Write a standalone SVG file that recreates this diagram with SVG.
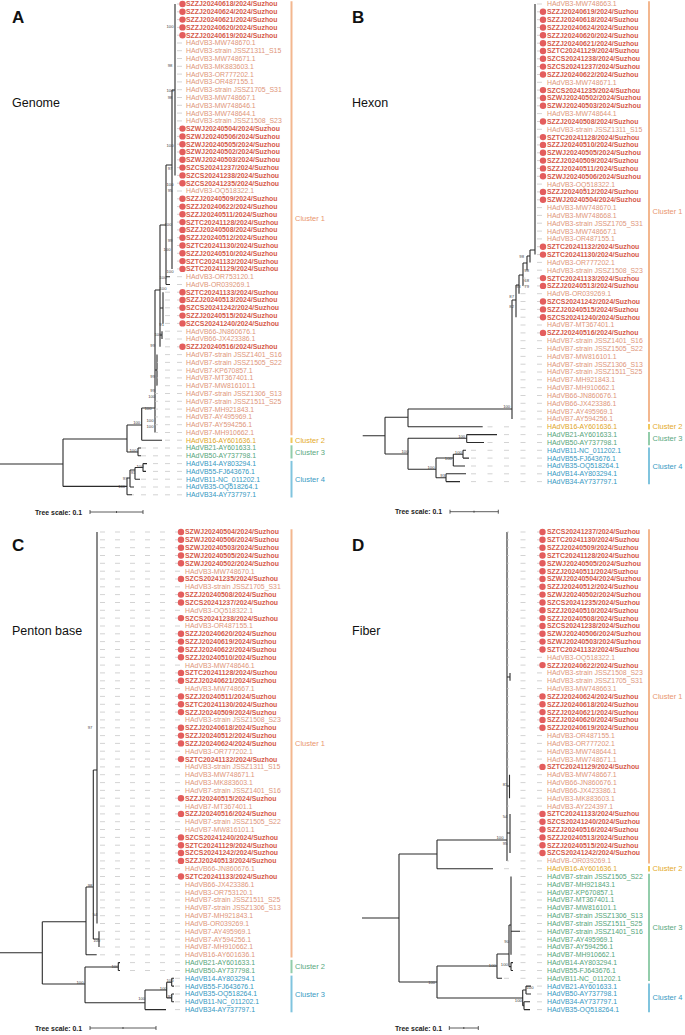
<svg xmlns="http://www.w3.org/2000/svg" width="685" height="1035" viewBox="0 0 685 1035">
<style>
text{font-family:"Liberation Sans",Arial,sans-serif}
.r{font-size:6.9px;fill:#e0967a}
.s{font-size:6.9px;font-weight:bold;fill:#d65b4b}
.y{font-size:6.9px;fill:#e0a526}
.g{font-size:6.9px;fill:#55a57a}
.b{font-size:6.9px;fill:#3598c2}
.d{fill:#e35d5d}
.t{stroke:#2b2b2b;stroke-width:1.1;fill:none}
.lA{stroke:#c8c8c8;stroke-width:.8;fill:none;stroke-dasharray:5 7}
.lB{stroke:#c8c8c8;stroke-width:.8;fill:none;stroke-dasharray:5 11.5}
.lC{stroke:#c8c8c8;stroke-width:.8;fill:none;stroke-dasharray:5 10}
.bs{font-size:4.2px;fill:#444;text-anchor:middle}
.cl{font-size:7.5px}
.k1{stroke:#f3b78f;stroke-width:2;fill:none}
.k2{stroke:#f1c75b;stroke-width:2;fill:none}
.k3{stroke:#93cdab;stroke-width:2;fill:none}
.k4{stroke:#80c4de;stroke-width:2;fill:none}
.c1{fill:#e9966f}.c2{fill:#e4aa2c}.c3{fill:#5aa97f}.c4{fill:#3a9bc4}
.sc{stroke:#333;stroke-width:.8;fill:none}
.ts{font-size:6.9px;font-weight:bold;fill:#222}
.pl{font-size:17px;font-weight:bold;fill:#111}
.pt{font-size:12.5px;fill:#111}
</style>

<g id="titles">
<text class="pl" x="12" y="23">A</text><text class="pt" x="12" y="107">Genome</text>
<text class="pl" x="352" y="23">B</text><text class="pt" x="352" y="107">Hexon</text>
<text class="pl" x="12" y="551">C</text><text class="pt" x="12" y="635">Penton base</text>
<text class="pl" x="352" y="551">D</text><text class="pt" x="352" y="635">Fiber</text>
</g>

<g id="connectors">
<path class="t" d="M0 464H63M63 439V486.4M63 439H127M127 425V452M127 452H138M138 448V455.8M138 448H141M138 455.8H141M127 425H141.7M141.7 408V440.2M141.7 440.2H162M141.7 408H155M63 486.4H127M127 478V494.8M127 494.8H132M127 478H130M130 470V487M130 487H134M130 470H135M135 467.5V479.2M135 479.2H140M135 467.5H143M143 463.6V471.4M143 463.6H147M143 471.4H146M175 4V175.4M172 90H175M172 90V268.9M166 165H172M166 165V284.5M166 276.7H170M166 284.5H170M160 225H166M160 225V346.8M160 308H163M163 292.2V323.4M160 335H162M162 331.2V339M155 290H160M155 290V432.5M155 370H157M157 354.6V385.7"/>
<path class="lA" d="M182 4H175M182 11.8H175M182 19.6H175M182 27.4H175M182 35.2H175M182 43H175M182 50.7H175M182 58.5H175M182 66.3H175M182 74.1H175M182 81.9H175M182 89.7H175M182 97.5H172M182 105.3H172M182 113.1H172M182 120.9H172M182 128.6H172M182 136.4H172M182 144.2H172M182 152H172M182 159.8H172M182 167.6H172M182 175.4H172M182 183.2H172M182 191H172M182 198.8H172M182 206.6H172M182 214.3H172M182 222.1H172M182 229.9H172M182 237.7H172M182 245.5H172M182 253.3H172M182 261.1H172M182 268.9H172M182 276.7H170M182 284.5H170M182 292.2H163M182 300H163M182 307.8H163M182 315.6H163M182 323.4H163M182 331.2H162M182 339H162M182 346.8H160M182 354.6H157M182 362.4H157M182 370.1H157M182 377.9H157M182 385.7H157M182 393.5H155M182 401.3H155M182 409.1H155M182 416.9H155M182 424.7H155M182 432.5H155M182 440.2H162M182 448H141M182 455.8H141M182 463.6H147M182 471.4H146M182 479.2H140M182 487H134M182 494.8H132"/>

<path class="t" d="M362.7 435.7H385M385 417.3V454M385 417.3H408M408 409V426.8M408 426.8H482.7M408 409H512M385 454H408M408 438.3V469.3M408 438.3H466.7M466.7 434.6V442.5M466.7 434.6H497M466.7 442.5H484M408 469.3H436M436 458V477.7M436 458H453.3M453.3 454.2V466M453.3 466H465M453.3 454.2H463M463 450.3V458.1M463 450.3H466M463 458.1H469M436 477.7H446M446 473.8V481.6M446 473.8H466M446 481.6H460M512 300V419M512 300H516M516 285V317.2M516 285H519M519 275V293.7M519 275H523M523 263V285.9M523 263H527M527 256V270.2M527 256H530M530 250V262.4M530 250H535M535 4V254.6"/>
<path class="lB" d="M542 4H535M542 11.8H535M542 19.7H535M542 27.5H535M542 35.3H535M542 43.2H535M542 51H535M542 58.8H535M542 66.6H535M542 74.5H535M542 82.3H535M542 90.1H535M542 98H535M542 105.8H535M542 113.6H535M542 121.5H535M542 129.3H535M542 137.1H535M542 144.9H535M542 152.8H535M542 160.6H535M542 168.4H535M542 176.3H535M542 184.1H535M542 191.9H535M542 199.8H535M542 207.6H535M542 215.4H535M542 223.2H535M542 231.1H535M542 238.9H535M542 246.7H535M542 254.6H535M542 262.4H530M542 270.2H527M542 278.1H523M542 285.9H523M542 293.7H519M542 301.5H516M542 309.4H516M542 317.2H516M542 325H512M542 332.9H512M542 340.7H512M542 348.5H512M542 356.4H512M542 364.2H512M542 372H512M542 379.8H512M542 387.7H512M542 395.5H512M542 403.3H512M542 411.2H512M542 419H512M542 426.8H482.7M542 434.6H497M542 442.5H484M542 450.3H466M542 458.1H469M542 466H465M542 473.8H466M542 481.6H460"/>

<path class="t" d="M0 952.7H42.3M42.3 921.7V984M42.3 921.7H86M86 887V954.8M86 954.8H96.7M86 887H93.3M93.3 770V939M93.3 939H99M99 931.3V947M93.3 770H97M97 532V923.5M42.3 984H85M85 967V1002.7M85 967H118.3M118.3 962.6V970.5M118.3 962.6H120M118.3 970.5H120M85 1002.7H145M145 990V1009.6M145 1009.6H166M145 990H166.7M166.7 982.2V997.9M166.7 982.2H171.7M171.7 978.3V986.1M171.7 978.3H174M171.7 986.1H174M166.7 997.9H171.7M171.7 994V1001.8M171.7 994H174M171.7 1001.8H174"/>
<path class="lC" d="M180 532H97M180 539.8H97M180 547.7H97M180 555.5H97M180 563.3H97M180 571.2H97M180 579H97M180 586.8H97M180 594.6H97M180 602.5H97M180 610.3H97M180 618.1H97M180 626H97M180 633.8H97M180 641.6H97M180 649.5H97M180 657.3H97M180 665.1H97M180 672.9H97M180 680.8H97M180 688.6H97M180 696.4H97M180 704.3H97M180 712.1H97M180 719.9H97M180 727.8H97M180 735.6H97M180 743.4H97M180 751.2H97M180 759.1H97M180 766.9H97M180 774.7H97M180 782.6H97M180 790.4H97M180 798.2H97M180 806.1H97M180 813.9H97M180 821.7H97M180 829.5H97M180 837.4H97M180 845.2H97M180 853H97M180 860.9H97M180 868.7H97M180 876.5H97M180 884.4H97M180 892.2H97M180 900H97M180 907.8H97M180 915.7H97M180 923.5H97M180 931.3H99M180 939.2H99M180 947H99M180 954.8H96.7M180 962.6H120M180 970.5H120M180 978.3H174M180 986.1H174M180 994H174M180 1001.8H174M180 1009.6H166"/>

<path class="t" d="M362 918H399M399 854V982M399 854H437M437 840V868.7M437 868.7H493M437 840H507M507 532V860.9M507 677H510M510 672.9V680.8M507 786H509.5M509.5 774.7V798.2M507 833H510M510 813.9V853M399 982H437M437 966V998M437 966H497M497 954V978.3M497 978.3H502M497 954H509M509 925V966.6M509 925H511M511 876.5V954.8M511 931.3H520M509 966.6H511M511 962.6V970.5M511 962.6H513M511 970.5H513M437 998H522.7M522.7 990V1005.7M522.7 990H526M526 986.1V994M526 986.1H531M526 994H531M522.7 1005.7H524M524 1001.8V1009.6M524 1001.8H530M524 1009.6H530"/>
<path class="lB" d="M542 532H507M542 539.8H507M542 547.7H507M542 555.5H507M542 563.3H507M542 571.2H507M542 579H507M542 586.8H507M542 594.6H507M542 602.5H507M542 610.3H507M542 618.1H507M542 626H507M542 633.8H507M542 641.6H507M542 649.5H507M542 657.3H507M542 665.1H507M542 672.9H510M542 680.8H510M542 688.6H507M542 696.4H507M542 704.3H507M542 712.1H507M542 719.9H507M542 727.8H507M542 735.6H507M542 743.4H507M542 751.2H507M542 759.1H507M542 766.9H507M542 774.7H509.5M542 782.6H509.5M542 790.4H509.5M542 798.2H509.5M542 806.1H507M542 813.9H510M542 821.7H510M542 829.5H510M542 837.4H510M542 845.2H510M542 853H510M542 860.9H507M542 868.7H493M542 876.5H511M542 884.4H511M542 892.2H511M542 900H511M542 907.8H511M542 915.7H511M542 923.5H511M542 931.3H520M542 939.2H511M542 947H511M542 954.8H511M542 962.6H513M542 970.5H513M542 978.3H502M542 986.1H531M542 994H531M542 1001.8H530M542 1009.6H530"/>
</g>

<g id="bootstrap">
<text class="bs" x="170" y="28">100</text><text class="bs" x="170" y="67">98</text><text class="bs" x="170" y="92">100</text><text class="bs" x="170" y="99">98</text><text class="bs" x="170" y="147">100</text><text class="bs" x="170" y="170">97</text><text class="bs" x="170" y="186">100</text><text class="bs" x="170" y="192">95</text><text class="bs" x="168" y="225.5">100</text><text class="bs" x="170" y="241.5">99</text><text class="bs" x="167" y="250.5">100</text><text class="bs" x="170" y="273">100</text><text class="bs" x="163" y="279">100</text><text class="bs" x="163" y="289.5">100</text><text class="bs" x="161.7" y="325.5">91</text><text class="bs" x="158" y="335.5">100</text><text class="bs" x="152.7" y="346.5">99</text><text class="bs" x="152.7" y="378">99</text><text class="bs" x="152.7" y="391.5">99</text><text class="bs" x="151.7" y="398">100</text><text class="bs" x="148" y="409.5">100</text><text class="bs" x="150" y="421.5">100</text><text class="bs" x="150" y="427.5">100</text><text class="bs" x="136.7" y="424">100</text><text class="bs" x="133" y="451.5">100</text><text class="bs" x="140" y="467.5">100</text><text class="bs" x="133" y="474">91</text><text class="bs" x="125" y="479.5">97</text><text class="bs" x="121.7" y="488">100</text>
<text class="bs" x="521.7" y="257.5">98</text><text class="bs" x="526.7" y="271.5">98</text><text class="bs" x="526.7" y="281.5">68</text><text class="bs" x="526.7" y="288">79</text><text class="bs" x="518.3" y="288">93</text><text class="bs" x="511.7" y="297.5">87</text><text class="bs" x="511.7" y="307.5">82</text><text class="bs" x="506.7" y="408">100</text><text class="bs" x="461.7" y="438">100</text><text class="bs" x="405" y="453">100</text><text class="bs" x="458.3" y="453.5">100</text><text class="bs" x="448.3" y="459.5">100</text><text class="bs" x="431" y="468.5">100</text><text class="bs" x="442.7" y="476.5">93</text>
<text class="bs" x="90" y="729">97</text><text class="bs" x="90" y="886.5">98</text><text class="bs" x="95" y="915.5">54</text><text class="bs" x="96.7" y="941.5">100</text><text class="bs" x="115" y="967.5">100</text><text class="bs" x="80" y="983.5">100</text><text class="bs" x="170" y="982">100</text><text class="bs" x="163.3" y="989.5">100</text><text class="bs" x="170" y="998">92</text><text class="bs" x="141.7" y="999.5">100</text>
<text class="bs" x="505" y="785.5">81</text><text class="bs" x="505" y="818">54</text><text class="bs" x="500" y="839">100</text><text class="bs" x="505" y="844.5">95</text><text class="bs" x="506.7" y="942.5">90</text><text class="bs" x="492.3" y="966.5">100</text><text class="bs" x="504.3" y="965.5">100</text><text class="bs" x="431.7" y="984">100</text><text class="bs" x="530" y="988.5">100</text><text class="bs" x="518.3" y="1001.5">100</text>
</g>

<g id="clusters">
<path class="k1" d="M291.5 1.3V435.2"/><path class="k2" d="M291.5 437.5V443"/><path class="k3" d="M291.5 445.3V458.5"/><path class="k4" d="M291.5 460.9V497.5"/>
<text class="cl c1" x="295" y="220.7">Cluster 1</text><text class="cl c2" x="295" y="442.8">Cluster 2</text><text class="cl c3" x="295" y="454.6">Cluster 3</text><text class="cl c4" x="295" y="481.6">Cluster 4</text>
<path class="k1" d="M649 1.3V421.7"/><path class="k2" d="M649 424.1V429.5"/><path class="k3" d="M649 431.9V445.2"/><path class="k4" d="M649 447.6V484.3"/>
<text class="cl c1" x="652.5" y="214.1">Cluster 1</text><text class="cl c2" x="652.5" y="429.4">Cluster 2</text><text class="cl c3" x="652.5" y="441.1">Cluster 3</text><text class="cl c4" x="652.5" y="468.6">Cluster 4</text>
<path class="k1" d="M291.5 529.3V957.5"/><path class="k3" d="M291.5 959.9V973.2"/><path class="k4" d="M291.5 975.6V1012.3"/>
<text class="cl c1" x="295" y="746">Cluster 1</text><text class="cl c3" x="295" y="969.1">Cluster 2</text><text class="cl c4" x="295" y="996.6">Cluster 3</text>
<path class="k1" d="M649 529.3V863.6"/><path class="k2" d="M649 866V871.4"/><path class="k3" d="M649 873.8V981"/><path class="k4" d="M649 983.4V1012.3"/>
<text class="cl c1" x="652.5" y="699">Cluster 1</text><text class="cl c2" x="652.5" y="871.3">Cluster 2</text><text class="cl c3" x="652.5" y="930">Cluster 3</text><text class="cl c4" x="652.5" y="1000.4">Cluster 4</text>
</g>

<g id="scales">
<text class="ts" x="35" y="514.5">Tree scale: 0.1</text><path class="sc" d="M90 512H143M90 510V514M116.5 511V513M143 510V514"/>
<text class="ts" x="395" y="514">Tree scale: 0.1</text><path class="sc" d="M450 511.7H498.3M450 509.7V513.7M474 510.7V512.7M498.3 509.7V513.7"/>
<text class="ts" x="35" y="1030.5">Tree scale: 0.1</text><path class="sc" d="M90 1028H156M90 1026V1030M123 1027V1029M156 1026V1030"/>
<text class="ts" x="395" y="1030.5">Tree scale: 0.1</text><path class="sc" d="M449.3 1028H478.3M449.3 1026V1030M463.8 1027V1029M478.3 1026V1030"/>
</g>

<g id="panelA">
<g id="A1"><circle class="d" cx="182.5" cy="4" r="3.2"/><text class="s" x="186" y="6.4">SZZJ20240618/2024/Suzhou</text></g>
<g id="A2"><circle class="d" cx="182.5" cy="11.8" r="3.2"/><text class="s" x="186" y="14.2">SZZJ20240624/2024/Suzhou</text></g>
<g id="A3"><circle class="d" cx="182.5" cy="19.6" r="3.2"/><text class="s" x="186" y="22">SZZJ20240621/2024/Suzhou</text></g>
<g id="A4"><circle class="d" cx="182.5" cy="27.4" r="3.2"/><text class="s" x="186" y="29.8">SZZJ20240620/2024/Suzhou</text></g>
<g id="A5"><circle class="d" cx="182.5" cy="35.2" r="3.2"/><text class="s" x="186" y="37.6">SZZJ20240619/2024/Suzhou</text></g>
<g id="A6"><text class="r" x="186" y="45.4">HAdVB3-MW748670.1</text></g>
<g id="A7"><text class="r" x="186" y="53.1">HAdVB3-strain JSSZ1311_S15</text></g>
<g id="A8"><text class="r" x="186" y="60.9">HAdVB3-MW748671.1</text></g>
<g id="A9"><text class="r" x="186" y="68.7">HAdVB3-MK883603.1</text></g>
<g id="A10"><text class="r" x="186" y="76.5">HAdVB3-OR777202.1</text></g>
<g id="A11"><text class="r" x="186" y="84.3">HAdVB3-OR487155.1</text></g>
<g id="A12"><text class="r" x="186" y="92.1">HAdVB3-strain JSSZ1705_S31</text></g>
<g id="A13"><text class="r" x="186" y="99.9">HAdVB3-MW748667.1</text></g>
<g id="A14"><text class="r" x="186" y="107.7">HAdVB3-MW748646.1</text></g>
<g id="A15"><text class="r" x="186" y="115.5">HAdVB3-MW748644.1</text></g>
<g id="A16"><text class="r" x="186" y="123.3">HAdVB3-strain JSSZ1508_S23</text></g>
<g id="A17"><circle class="d" cx="182.5" cy="128.6" r="3.2"/><text class="s" x="186" y="131">SZWJ20240504/2024/Suzhou</text></g>
<g id="A18"><circle class="d" cx="182.5" cy="136.4" r="3.2"/><text class="s" x="186" y="138.8">SZWJ20240506/2024/Suzhou</text></g>
<g id="A19"><circle class="d" cx="182.5" cy="144.2" r="3.2"/><text class="s" x="186" y="146.6">SZWJ20240505/2024/Suzhou</text></g>
<g id="A20"><circle class="d" cx="182.5" cy="152" r="3.2"/><text class="s" x="186" y="154.4">SZWJ20240502/2024/Suzhou</text></g>
<g id="A21"><circle class="d" cx="182.5" cy="159.8" r="3.2"/><text class="s" x="186" y="162.2">SZWJ20240503/2024/Suzhou</text></g>
<g id="A22"><circle class="d" cx="182.5" cy="167.6" r="3.2"/><text class="s" x="186" y="170">SZCS20241237/2024/Suzhou</text></g>
<g id="A23"><circle class="d" cx="182.5" cy="175.4" r="3.2"/><text class="s" x="186" y="177.8">SZCS20241238/2024/Suzhou</text></g>
<g id="A24"><circle class="d" cx="182.5" cy="183.2" r="3.2"/><text class="s" x="186" y="185.6">SZCS20241235/2024/Suzhou</text></g>
<g id="A25"><text class="r" x="186" y="193.4">HAdVB3-OQ518322.1</text></g>
<g id="A26"><circle class="d" cx="182.5" cy="198.8" r="3.2"/><text class="s" x="186" y="201.2">SZZJ20240509/2024/Suzhou</text></g>
<g id="A27"><circle class="d" cx="182.5" cy="206.6" r="3.2"/><text class="s" x="186" y="209">SZZJ20240622/2024/Suzhou</text></g>
<g id="A28"><circle class="d" cx="182.5" cy="214.3" r="3.2"/><text class="s" x="186" y="216.7">SZZJ20240511/2024/Suzhou</text></g>
<g id="A29"><circle class="d" cx="182.5" cy="222.1" r="3.2"/><text class="s" x="186" y="224.5">SZTC20241128/2024/Suzhou</text></g>
<g id="A30"><circle class="d" cx="182.5" cy="229.9" r="3.2"/><text class="s" x="186" y="232.3">SZZJ20240508/2024/Suzhou</text></g>
<g id="A31"><circle class="d" cx="182.5" cy="237.7" r="3.2"/><text class="s" x="186" y="240.1">SZZJ20240512/2024/Suzhou</text></g>
<g id="A32"><circle class="d" cx="182.5" cy="245.5" r="3.2"/><text class="s" x="186" y="247.9">SZTC20241130/2024/Suzhou</text></g>
<g id="A33"><circle class="d" cx="182.5" cy="253.3" r="3.2"/><text class="s" x="186" y="255.7">SZZJ20240510/2024/Suzhou</text></g>
<g id="A34"><circle class="d" cx="182.5" cy="261.1" r="3.2"/><text class="s" x="186" y="263.5">SZTC20241132/2024/Suzhou</text></g>
<g id="A35"><circle class="d" cx="182.5" cy="268.9" r="3.2"/><text class="s" x="186" y="271.3">SZTC20241129/2024/Suzhou</text></g>
<g id="A36"><text class="r" x="186" y="279.1">HAdVB3-OR753120.1</text></g>
<g id="A37"><text class="r" x="186" y="286.9">HAdVB-OR039269.1</text></g>
<g id="A38"><circle class="d" cx="182.5" cy="292.2" r="3.2"/><text class="s" x="186" y="294.6">SZTC20241133/2024/Suzhou</text></g>
<g id="A39"><circle class="d" cx="182.5" cy="300" r="3.2"/><text class="s" x="186" y="302.4">SZZJ20240513/2024/Suzhou</text></g>
<g id="A40"><circle class="d" cx="182.5" cy="307.8" r="3.2"/><text class="s" x="186" y="310.2">SZCS20241242/2024/Suzhou</text></g>
<g id="A41"><circle class="d" cx="182.5" cy="315.6" r="3.2"/><text class="s" x="186" y="318">SZZJ20240515/2024/Suzhou</text></g>
<g id="A42"><circle class="d" cx="182.5" cy="323.4" r="3.2"/><text class="s" x="186" y="325.8">SZCS20241240/2024/Suzhou</text></g>
<g id="A43"><text class="r" x="186" y="333.6">HAdVB66-JN860676.1</text></g>
<g id="A44"><text class="r" x="186" y="341.4">HAdVB66-JX423386.1</text></g>
<g id="A45"><circle class="d" cx="182.5" cy="346.8" r="3.2"/><text class="s" x="186" y="349.2">SZZJ20240516/2024/Suzhou</text></g>
<g id="A46"><text class="r" x="186" y="357">HAdVB7-strain JSSZ1401_S16</text></g>
<g id="A47"><text class="r" x="186" y="364.8">HAdVB7-strain JSSZ1505_S22</text></g>
<g id="A48"><text class="r" x="186" y="372.5">HAdVB7-KP670857.1</text></g>
<g id="A49"><text class="r" x="186" y="380.3">HAdVB7-MT367401.1</text></g>
<g id="A50"><text class="r" x="186" y="388.1">HAdVB7-MW816101.1</text></g>
<g id="A51"><text class="r" x="186" y="395.9">HAdVB7-strain JSSZ1306_S13</text></g>
<g id="A52"><text class="r" x="186" y="403.7">HAdVB7-strain JSSZ1511_S25</text></g>
<g id="A53"><text class="r" x="186" y="411.5">HAdVB7-MH921843.1</text></g>
<g id="A54"><text class="r" x="186" y="419.3">HAdVB7-AY495969.1</text></g>
<g id="A55"><text class="r" x="186" y="427.1">HAdVB7-AY594256.1</text></g>
<g id="A56"><text class="r" x="186" y="434.9">HAdVB7-MH910662.1</text></g>
<g id="A57"><text class="y" x="186" y="442.6">HAdVB16-AY601636.1</text></g>
<g id="A58"><text class="g" x="186" y="450.4">HAdVB21-AY601633.1</text></g>
<g id="A59"><text class="g" x="186" y="458.2">HAdVB50-AY737798.1</text></g>
<g id="A60"><text class="b" x="186" y="466">HAdVB14-AY803294.1</text></g>
<g id="A61"><text class="b" x="186" y="473.8">HAdVB55-FJ643676.1</text></g>
<g id="A62"><text class="b" x="186" y="481.6">HAdVB11-NC_011202.1</text></g>
<g id="A63"><text class="b" x="186" y="489.4">HAdVB35-OQ518264.1</text></g>
<g id="A64"><text class="b" x="186" y="497.2">HAdVB34-AY737797.1</text></g>
</g>

<g id="panelB">
<g id="B1"><text class="r" x="547" y="6.4">HAdVB3-MW748663.1</text></g>
<g id="B2"><circle class="d" cx="543" cy="11.8" r="3.2"/><text class="s" x="547" y="14.2">SZZJ20240619/2024/Suzhou</text></g>
<g id="B3"><circle class="d" cx="543" cy="19.7" r="3.2"/><text class="s" x="547" y="22.1">SZZJ20240618/2024/Suzhou</text></g>
<g id="B4"><circle class="d" cx="543" cy="27.5" r="3.2"/><text class="s" x="547" y="29.9">SZZJ20240624/2024/Suzhou</text></g>
<g id="B5"><circle class="d" cx="543" cy="35.3" r="3.2"/><text class="s" x="547" y="37.7">SZZJ20240620/2024/Suzhou</text></g>
<g id="B6"><circle class="d" cx="543" cy="43.2" r="3.2"/><text class="s" x="547" y="45.6">SZZJ20240621/2024/Suzhou</text></g>
<g id="B7"><circle class="d" cx="543" cy="51" r="3.2"/><text class="s" x="547" y="53.4">SZTC20241129/2024/Suzhou</text></g>
<g id="B8"><circle class="d" cx="543" cy="58.8" r="3.2"/><text class="s" x="547" y="61.2">SZCS20241238/2024/Suzhou</text></g>
<g id="B9"><circle class="d" cx="543" cy="66.6" r="3.2"/><text class="s" x="547" y="69">SZCS20241237/2024/Suzhou</text></g>
<g id="B10"><circle class="d" cx="543" cy="74.5" r="3.2"/><text class="s" x="547" y="76.9">SZZJ20240622/2024/Suzhou</text></g>
<g id="B11"><text class="r" x="547" y="84.7">HAdVB3-MW748671.1</text></g>
<g id="B12"><circle class="d" cx="543" cy="90.1" r="3.2"/><text class="s" x="547" y="92.5">SZCS20241235/2024/Suzhou</text></g>
<g id="B13"><circle class="d" cx="543" cy="98" r="3.2"/><text class="s" x="547" y="100.4">SZWJ20240502/2024/Suzhou</text></g>
<g id="B14"><circle class="d" cx="543" cy="105.8" r="3.2"/><text class="s" x="547" y="108.2">SZWJ20240503/2024/Suzhou</text></g>
<g id="B15"><text class="r" x="547" y="116">HAdVB3-MW748644.1</text></g>
<g id="B16"><circle class="d" cx="543" cy="121.5" r="3.2"/><text class="s" x="547" y="123.9">SZZJ20240508/2024/Suzhou</text></g>
<g id="B17"><text class="r" x="547" y="131.7">HAdVB3-strain JSSZ1311_S15</text></g>
<g id="B18"><circle class="d" cx="543" cy="137.1" r="3.2"/><text class="s" x="547" y="139.5">SZTC20241128/2024/Suzhou</text></g>
<g id="B19"><circle class="d" cx="543" cy="144.9" r="3.2"/><text class="s" x="547" y="147.3">SZZJ20240510/2024/Suzhou</text></g>
<g id="B20"><circle class="d" cx="543" cy="152.8" r="3.2"/><text class="s" x="547" y="155.2">SZWJ20240505/2024/Suzhou</text></g>
<g id="B21"><circle class="d" cx="543" cy="160.6" r="3.2"/><text class="s" x="547" y="163">SZZJ20240509/2024/Suzhou</text></g>
<g id="B22"><circle class="d" cx="543" cy="168.4" r="3.2"/><text class="s" x="547" y="170.8">SZZJ20240511/2024/Suzhou</text></g>
<g id="B23"><circle class="d" cx="543" cy="176.3" r="3.2"/><text class="s" x="547" y="178.7">SZWJ20240506/2024/Suzhou</text></g>
<g id="B24"><text class="r" x="547" y="186.5">HAdVB3-OQ518322.1</text></g>
<g id="B25"><circle class="d" cx="543" cy="191.9" r="3.2"/><text class="s" x="547" y="194.3">SZZJ20240512/2024/Suzhou</text></g>
<g id="B26"><circle class="d" cx="543" cy="199.8" r="3.2"/><text class="s" x="547" y="202.2">SZWJ20240504/2024/Suzhou</text></g>
<g id="B27"><text class="r" x="547" y="210">HAdVB3-MW748670.1</text></g>
<g id="B28"><text class="r" x="547" y="217.8">HAdVB3-MW748668.1</text></g>
<g id="B29"><text class="r" x="547" y="225.6">HAdVB3-strain JSSZ1705_S31</text></g>
<g id="B30"><text class="r" x="547" y="233.5">HAdVB3-MW748667.1</text></g>
<g id="B31"><text class="r" x="547" y="241.3">HAdVB3-OR487155.1</text></g>
<g id="B32"><circle class="d" cx="543" cy="246.7" r="3.2"/><text class="s" x="547" y="249.1">SZTC20241132/2024/Suzhou</text></g>
<g id="B33"><circle class="d" cx="543" cy="254.6" r="3.2"/><text class="s" x="547" y="257">SZTC20241130/2024/Suzhou</text></g>
<g id="B34"><text class="r" x="547" y="264.8">HAdVB3-OR777202.1</text></g>
<g id="B35"><text class="r" x="547" y="272.6">HAdVB3-strain JSSZ1508_S23</text></g>
<g id="B36"><circle class="d" cx="543" cy="278.1" r="3.2"/><text class="s" x="547" y="280.5">SZTC20241133/2024/Suzhou</text></g>
<g id="B37"><circle class="d" cx="543" cy="285.9" r="3.2"/><text class="s" x="547" y="288.3">SZZJ20240513/2024/Suzhou</text></g>
<g id="B38"><text class="r" x="547" y="296.1">HAdVB-OR039269.1</text></g>
<g id="B39"><circle class="d" cx="543" cy="301.5" r="3.2"/><text class="s" x="547" y="303.9">SZCS20241242/2024/Suzhou</text></g>
<g id="B40"><circle class="d" cx="543" cy="309.4" r="3.2"/><text class="s" x="547" y="311.8">SZZJ20240515/2024/Suzhou</text></g>
<g id="B41"><circle class="d" cx="543" cy="317.2" r="3.2"/><text class="s" x="547" y="319.6">SZCS20241240/2024/Suzhou</text></g>
<g id="B42"><text class="r" x="547" y="327.4">HAdVB7-MT367401.1</text></g>
<g id="B43"><circle class="d" cx="543" cy="332.9" r="3.2"/><text class="s" x="547" y="335.3">SZZJ20240516/2024/Suzhou</text></g>
<g id="B44"><text class="r" x="547" y="343.1">HAdVB7-strain JSSZ1401_S16</text></g>
<g id="B45"><text class="r" x="547" y="350.9">HAdVB7-strain JSSZ1505_S22</text></g>
<g id="B46"><text class="r" x="547" y="358.8">HAdVB7-MW816101.1</text></g>
<g id="B47"><text class="r" x="547" y="366.6">HAdVB7-strain JSSZ1306_S13</text></g>
<g id="B48"><text class="r" x="547" y="374.4">HAdVB7-strain JSSZ1511_S25</text></g>
<g id="B49"><text class="r" x="547" y="382.2">HAdVB7-MH921843.1</text></g>
<g id="B50"><text class="r" x="547" y="390.1">HAdVB7-MH910662.1</text></g>
<g id="B51"><text class="r" x="547" y="397.9">HAdVB66-JN860676.1</text></g>
<g id="B52"><text class="r" x="547" y="405.7">HAdVB66-JX423386.1</text></g>
<g id="B53"><text class="r" x="547" y="413.6">HAdVB7-AY495969.1</text></g>
<g id="B54"><text class="r" x="547" y="421.4">HAdVB7-AY594256.1</text></g>
<g id="B55"><text class="y" x="547" y="429.2">HAdVB16-AY601636.1</text></g>
<g id="B56"><text class="g" x="547" y="437">HAdVB21-AY601633.1</text></g>
<g id="B57"><text class="g" x="547" y="444.9">HAdVB50-AY737798.1</text></g>
<g id="B58"><text class="b" x="547" y="452.7">HAdVB11-NC_011202.1</text></g>
<g id="B59"><text class="b" x="547" y="460.5">HAdVB55-FJ643676.1</text></g>
<g id="B60"><text class="b" x="547" y="468.4">HAdVB35-OQ518264.1</text></g>
<g id="B61"><text class="b" x="547" y="476.2">HAdVB14-AY803294.1</text></g>
<g id="B62"><text class="b" x="547" y="484">HAdVB34-AY737797.1</text></g>
</g>

<g id="panelC">
<g id="C1"><circle class="d" cx="181" cy="532" r="3.2"/><text class="s" x="185" y="534.4">SZWJ20240504/2024/Suzhou</text></g>
<g id="C2"><circle class="d" cx="181" cy="539.8" r="3.2"/><text class="s" x="185" y="542.2">SZWJ20240506/2024/Suzhou</text></g>
<g id="C3"><circle class="d" cx="181" cy="547.7" r="3.2"/><text class="s" x="185" y="550.1">SZWJ20240503/2024/Suzhou</text></g>
<g id="C4"><circle class="d" cx="181" cy="555.5" r="3.2"/><text class="s" x="185" y="557.9">SZWJ20240505/2024/Suzhou</text></g>
<g id="C5"><circle class="d" cx="181" cy="563.3" r="3.2"/><text class="s" x="185" y="565.7">SZWJ20240502/2024/Suzhou</text></g>
<g id="C6"><text class="r" x="185" y="573.6">HAdVB3-MW748670.1</text></g>
<g id="C7"><circle class="d" cx="181" cy="579" r="3.2"/><text class="s" x="185" y="581.4">SZCS20241235/2024/Suzhou</text></g>
<g id="C8"><text class="r" x="185" y="589.2">HAdVB3-strain JSSZ1705_S31</text></g>
<g id="C9"><circle class="d" cx="181" cy="594.6" r="3.2"/><text class="s" x="185" y="597">SZZJ20240508/2024/Suzhou</text></g>
<g id="C10"><circle class="d" cx="181" cy="602.5" r="3.2"/><text class="s" x="185" y="604.9">SZCS20241237/2024/Suzhou</text></g>
<g id="C11"><text class="r" x="185" y="612.7">HAdVB3-OQ518322.1</text></g>
<g id="C12"><circle class="d" cx="181" cy="618.1" r="3.2"/><text class="s" x="185" y="620.5">SZCS20241238/2024/Suzhou</text></g>
<g id="C13"><text class="r" x="185" y="628.4">HAdVB3-OR487155.1</text></g>
<g id="C14"><circle class="d" cx="181" cy="633.8" r="3.2"/><text class="s" x="185" y="636.2">SZZJ20240620/2024/Suzhou</text></g>
<g id="C15"><circle class="d" cx="181" cy="641.6" r="3.2"/><text class="s" x="185" y="644">SZZJ20240619/2024/Suzhou</text></g>
<g id="C16"><circle class="d" cx="181" cy="649.5" r="3.2"/><text class="s" x="185" y="651.9">SZZJ20240622/2024/Suzhou</text></g>
<g id="C17"><circle class="d" cx="181" cy="657.3" r="3.2"/><text class="s" x="185" y="659.7">SZZJ20240510/2024/Suzhou</text></g>
<g id="C18"><text class="r" x="185" y="667.5">HAdVB3-MW748646.1</text></g>
<g id="C19"><circle class="d" cx="181" cy="672.9" r="3.2"/><text class="s" x="185" y="675.3">SZTC20241128/2024/Suzhou</text></g>
<g id="C20"><circle class="d" cx="181" cy="680.8" r="3.2"/><text class="s" x="185" y="683.2">SZZJ20240621/2024/Suzhou</text></g>
<g id="C21"><text class="r" x="185" y="691">HAdVB3-MW748667.1</text></g>
<g id="C22"><circle class="d" cx="181" cy="696.4" r="3.2"/><text class="s" x="185" y="698.8">SZZJ20240511/2024/Suzhou</text></g>
<g id="C23"><circle class="d" cx="181" cy="704.3" r="3.2"/><text class="s" x="185" y="706.7">SZTC20241130/2024/Suzhou</text></g>
<g id="C24"><circle class="d" cx="181" cy="712.1" r="3.2"/><text class="s" x="185" y="714.5">SZZJ20240509/2024/Suzhou</text></g>
<g id="C25"><text class="r" x="185" y="722.3">HAdVB3-strain JSSZ1508_S23</text></g>
<g id="C26"><circle class="d" cx="181" cy="727.8" r="3.2"/><text class="s" x="185" y="730.2">SZZJ20240618/2024/Suzhou</text></g>
<g id="C27"><circle class="d" cx="181" cy="735.6" r="3.2"/><text class="s" x="185" y="738">SZZJ20240512/2024/Suzhou</text></g>
<g id="C28"><circle class="d" cx="181" cy="743.4" r="3.2"/><text class="s" x="185" y="745.8">SZZJ20240624/2024/Suzhou</text></g>
<g id="C29"><text class="r" x="185" y="753.6">HAdVB3-OR777202.1</text></g>
<g id="C30"><circle class="d" cx="181" cy="759.1" r="3.2"/><text class="s" x="185" y="761.5">SZTC20241132/2024/Suzhou</text></g>
<g id="C31"><text class="r" x="185" y="769.3">HAdVB3-strain JSSZ1311_S15</text></g>
<g id="C32"><text class="r" x="185" y="777.1">HAdVB3-MW748671.1</text></g>
<g id="C33"><text class="r" x="185" y="785">HAdVB3-MK883603.1</text></g>
<g id="C34"><text class="r" x="185" y="792.8">HAdVB7-strain JSSZ1401_S16</text></g>
<g id="C35"><circle class="d" cx="181" cy="798.2" r="3.2"/><text class="s" x="185" y="800.6">SZZJ20240515/2024/Suzhou</text></g>
<g id="C36"><text class="r" x="185" y="808.5">HAdVB7-MT367401.1</text></g>
<g id="C37"><circle class="d" cx="181" cy="813.9" r="3.2"/><text class="s" x="185" y="816.3">SZZJ20240516/2024/Suzhou</text></g>
<g id="C38"><text class="r" x="185" y="824.1">HAdVB7-strain JSSZ1505_S22</text></g>
<g id="C39"><text class="r" x="185" y="831.9">HAdVB7-MW816101.1</text></g>
<g id="C40"><circle class="d" cx="181" cy="837.4" r="3.2"/><text class="s" x="185" y="839.8">SZCS20241240/2024/Suzhou</text></g>
<g id="C41"><circle class="d" cx="181" cy="845.2" r="3.2"/><text class="s" x="185" y="847.6">SZTC20241129/2024/Suzhou</text></g>
<g id="C42"><circle class="d" cx="181" cy="853" r="3.2"/><text class="s" x="185" y="855.4">SZCS20241242/2024/Suzhou</text></g>
<g id="C43"><circle class="d" cx="181" cy="860.9" r="3.2"/><text class="s" x="185" y="863.3">SZZJ20240513/2024/Suzhou</text></g>
<g id="C44"><text class="r" x="185" y="871.1">HAdVB66-JN860676.1</text></g>
<g id="C45"><circle class="d" cx="181" cy="876.5" r="3.2"/><text class="s" x="185" y="878.9">SZTC20241133/2024/Suzhou</text></g>
<g id="C46"><text class="r" x="185" y="886.8">HAdVB66-JX423386.1</text></g>
<g id="C47"><text class="r" x="185" y="894.6">HAdVB3-OR753120.1</text></g>
<g id="C48"><text class="r" x="185" y="902.4">HAdVB7-strain JSSZ1511_S25</text></g>
<g id="C49"><text class="r" x="185" y="910.2">HAdVB7-strain JSSZ1306_S13</text></g>
<g id="C50"><text class="r" x="185" y="918.1">HAdVB7-MH921843.1</text></g>
<g id="C51"><text class="r" x="185" y="925.9">HAdVB-OR039269.1</text></g>
<g id="C52"><text class="r" x="185" y="933.7">HAdVB7-AY495969.1</text></g>
<g id="C53"><text class="r" x="185" y="941.6">HAdVB7-AY594256.1</text></g>
<g id="C54"><text class="r" x="185" y="949.4">HAdVB7-MH910662.1</text></g>
<g id="C55"><text class="r" x="185" y="957.2">HAdVB16-AY601636.1</text></g>
<g id="C56"><text class="g" x="185" y="965">HAdVB21-AY601633.1</text></g>
<g id="C57"><text class="g" x="185" y="972.9">HAdVB50-AY737798.1</text></g>
<g id="C58"><text class="b" x="185" y="980.7">HAdVB14-AY803294.1</text></g>
<g id="C59"><text class="b" x="185" y="988.5">HAdVB55-FJ643676.1</text></g>
<g id="C60"><text class="b" x="185" y="996.4">HAdVB35-OQ518264.1</text></g>
<g id="C61"><text class="b" x="185" y="1004.2">HAdVB11-NC_011202.1</text></g>
<g id="C62"><text class="b" x="185" y="1012">HAdVB34-AY737797.1</text></g>
</g>

<g id="panelD">
<g id="D1"><circle class="d" cx="542.5" cy="532" r="3.2"/><text class="s" x="547" y="534.4">SZCS20241237/2024/Suzhou</text></g>
<g id="D2"><circle class="d" cx="542.5" cy="539.8" r="3.2"/><text class="s" x="547" y="542.2">SZTC20241130/2024/Suzhou</text></g>
<g id="D3"><circle class="d" cx="542.5" cy="547.7" r="3.2"/><text class="s" x="547" y="550.1">SZZJ20240509/2024/Suzhou</text></g>
<g id="D4"><circle class="d" cx="542.5" cy="555.5" r="3.2"/><text class="s" x="547" y="557.9">SZTC20241128/2024/Suzhou</text></g>
<g id="D5"><circle class="d" cx="542.5" cy="563.3" r="3.2"/><text class="s" x="547" y="565.7">SZWJ20240505/2024/Suzhou</text></g>
<g id="D6"><circle class="d" cx="542.5" cy="571.2" r="3.2"/><text class="s" x="547" y="573.6">SZZJ20240511/2024/Suzhou</text></g>
<g id="D7"><circle class="d" cx="542.5" cy="579" r="3.2"/><text class="s" x="547" y="581.4">SZWJ20240504/2024/Suzhou</text></g>
<g id="D8"><circle class="d" cx="542.5" cy="586.8" r="3.2"/><text class="s" x="547" y="589.2">SZZJ20240512/2024/Suzhou</text></g>
<g id="D9"><circle class="d" cx="542.5" cy="594.6" r="3.2"/><text class="s" x="547" y="597">SZWJ20240502/2024/Suzhou</text></g>
<g id="D10"><circle class="d" cx="542.5" cy="602.5" r="3.2"/><text class="s" x="547" y="604.9">SZCS20241235/2024/Suzhou</text></g>
<g id="D11"><circle class="d" cx="542.5" cy="610.3" r="3.2"/><text class="s" x="547" y="612.7">SZZJ20240510/2024/Suzhou</text></g>
<g id="D12"><circle class="d" cx="542.5" cy="618.1" r="3.2"/><text class="s" x="547" y="620.5">SZZJ20240508/2024/Suzhou</text></g>
<g id="D13"><circle class="d" cx="542.5" cy="626" r="3.2"/><text class="s" x="547" y="628.4">SZCS20241238/2024/Suzhou</text></g>
<g id="D14"><circle class="d" cx="542.5" cy="633.8" r="3.2"/><text class="s" x="547" y="636.2">SZWJ20240506/2024/Suzhou</text></g>
<g id="D15"><circle class="d" cx="542.5" cy="641.6" r="3.2"/><text class="s" x="547" y="644">SZWJ20240503/2024/Suzhou</text></g>
<g id="D16"><circle class="d" cx="542.5" cy="649.5" r="3.2"/><text class="s" x="547" y="651.9">SZTC20241132/2024/Suzhou</text></g>
<g id="D17"><text class="r" x="547" y="659.7">HAdVB3-OQ518322.1</text></g>
<g id="D18"><circle class="d" cx="542.5" cy="665.1" r="3.2"/><text class="s" x="547" y="667.5">SZZJ20240622/2024/Suzhou</text></g>
<g id="D19"><text class="r" x="547" y="675.3">HAdVB3-strain JSSZ1508_S23</text></g>
<g id="D20"><text class="r" x="547" y="683.2">HAdVB3-strain JSSZ1705_S31</text></g>
<g id="D21"><text class="r" x="547" y="691">HAdVB3-MW748663.1</text></g>
<g id="D22"><circle class="d" cx="542.5" cy="696.4" r="3.2"/><text class="s" x="547" y="698.8">SZZJ20240624/2024/Suzhou</text></g>
<g id="D23"><circle class="d" cx="542.5" cy="704.3" r="3.2"/><text class="s" x="547" y="706.7">SZZJ20240618/2024/Suzhou</text></g>
<g id="D24"><circle class="d" cx="542.5" cy="712.1" r="3.2"/><text class="s" x="547" y="714.5">SZZJ20240621/2024/Suzhou</text></g>
<g id="D25"><circle class="d" cx="542.5" cy="719.9" r="3.2"/><text class="s" x="547" y="722.3">SZZJ20240620/2024/Suzhou</text></g>
<g id="D26"><circle class="d" cx="542.5" cy="727.8" r="3.2"/><text class="s" x="547" y="730.2">SZZJ20240619/2024/Suzhou</text></g>
<g id="D27"><text class="r" x="547" y="738">HAdVB3-OR487155.1</text></g>
<g id="D28"><text class="r" x="547" y="745.8">HAdVB3-OR777202.1</text></g>
<g id="D29"><text class="r" x="547" y="753.6">HAdVB3-MW748644.1</text></g>
<g id="D30"><text class="r" x="547" y="761.5">HAdVB3-MW748671.1</text></g>
<g id="D31"><circle class="d" cx="542.5" cy="766.9" r="3.2"/><text class="s" x="547" y="769.3">SZTC20241129/2024/Suzhou</text></g>
<g id="D32"><text class="r" x="547" y="777.1">HAdVB3-MW748667.1</text></g>
<g id="D33"><text class="r" x="547" y="785">HAdVB66-JN860676.1</text></g>
<g id="D34"><text class="r" x="547" y="792.8">HAdVB66-JX423386.1</text></g>
<g id="D35"><text class="r" x="547" y="800.6">HAdVB3-MK883603.1</text></g>
<g id="D36"><text class="r" x="547" y="808.5">HAdVB3-AY224397.1</text></g>
<g id="D37"><circle class="d" cx="542.5" cy="813.9" r="3.2"/><text class="s" x="547" y="816.3">SZTC20241133/2024/Suzhou</text></g>
<g id="D38"><circle class="d" cx="542.5" cy="821.7" r="3.2"/><text class="s" x="547" y="824.1">SZCS20241240/2024/Suzhou</text></g>
<g id="D39"><circle class="d" cx="542.5" cy="829.5" r="3.2"/><text class="s" x="547" y="831.9">SZZJ20240516/2024/Suzhou</text></g>
<g id="D40"><circle class="d" cx="542.5" cy="837.4" r="3.2"/><text class="s" x="547" y="839.8">SZZJ20240513/2024/Suzhou</text></g>
<g id="D41"><circle class="d" cx="542.5" cy="845.2" r="3.2"/><text class="s" x="547" y="847.6">SZZJ20240515/2024/Suzhou</text></g>
<g id="D42"><circle class="d" cx="542.5" cy="853" r="3.2"/><text class="s" x="547" y="855.4">SZCS20241242/2024/Suzhou</text></g>
<g id="D43"><text class="r" x="547" y="863.3">HAdVB-OR039269.1</text></g>
<g id="D44"><text class="y" x="547" y="871.1">HAdVB16-AY601636.1</text></g>
<g id="D45"><text class="g" x="547" y="878.9">HAdVB7-strain JSSZ1505_S22</text></g>
<g id="D46"><text class="g" x="547" y="886.8">HAdVB7-MH921843.1</text></g>
<g id="D47"><text class="g" x="547" y="894.6">HAdVB7-KP670857.1</text></g>
<g id="D48"><text class="g" x="547" y="902.4">HAdVB7-MT367401.1</text></g>
<g id="D49"><text class="g" x="547" y="910.2">HAdVB7-MW816101.1</text></g>
<g id="D50"><text class="g" x="547" y="918.1">HAdVB7-strain JSSZ1306_S13</text></g>
<g id="D51"><text class="g" x="547" y="925.9">HAdVB7-strain JSSZ1511_S25</text></g>
<g id="D52"><text class="g" x="547" y="933.7">HAdVB7-strain JSSZ1401_S16</text></g>
<g id="D53"><text class="g" x="547" y="941.6">HAdVB7-AY495969.1</text></g>
<g id="D54"><text class="g" x="547" y="949.4">HAdVB7-AY594256.1</text></g>
<g id="D55"><text class="g" x="547" y="957.2">HAdVB7-MH910662.1</text></g>
<g id="D56"><text class="g" x="547" y="965">HAdVB14-AY803294.1</text></g>
<g id="D57"><text class="g" x="547" y="972.9">HAdVB55-FJ643676.1</text></g>
<g id="D58"><text class="g" x="547" y="980.7">HAdVB11-NC_011202.1</text></g>
<g id="D59"><text class="b" x="547" y="988.5">HAdVB21-AY601633.1</text></g>
<g id="D60"><text class="b" x="547" y="996.4">HAdVB50-AY737798.1</text></g>
<g id="D61"><text class="b" x="547" y="1004.2">HAdVB34-AY737797.1</text></g>
<g id="D62"><text class="b" x="547" y="1012">HAdVB35-OQ518264.1</text></g>
</g>
</svg>
